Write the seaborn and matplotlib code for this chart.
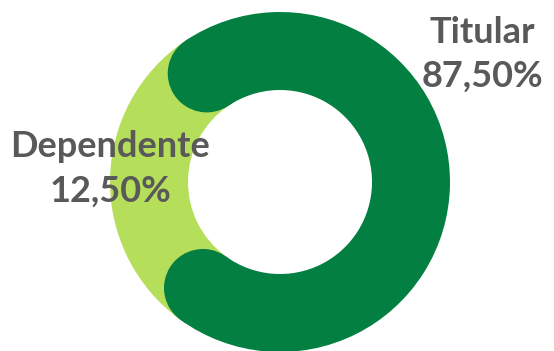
import matplotlib
matplotlib.use("Agg")
import matplotlib.pyplot as plt
import seaborn as sns
import numpy as np
from matplotlib.patches import Circle

# ---- data ----
categories = ["Titular", "Dependente"]
values = [87.5, 12.5]
colors = ["#047F42", "#B5DE5A"]

# ---- style ----
sns.set_theme(style="white")
plt.rcParams['font.family'] = ['Lato', 'DejaVu Sans']
TEXT_COLOR = "#595959"

W, H = 554, 351
cx, cy, R = 280, 182, 170          # centre / outer radius in pixels
ring = 78 / R                      # ring width relative to outer radius
trim = 32.5                        # degrees hidden under the round caps

fig = plt.figure(figsize=(W / 100, H / 100), dpi=100)
ax = fig.add_axes([0, 0, 1, 1])

start = 180 - 360 * (values[0] + values[1] / 2) / sum(values) - 1
wedges, _ = ax.pie(values, colors=colors, startangle=start, counterclock=True,
                   radius=1, wedgeprops=dict(width=ring, linewidth=0))

dark, light = wedges
# shorten dark arc, extend light arc underneath
dark.set_theta1(dark.theta1 + trim)
dark.set_theta2(dark.theta2 - trim)
light.set_theta1(light.theta1 - trim)
light.set_theta2(light.theta2 + trim)
light.set_zorder(1)
dark.set_zorder(2)

# rounded caps
rmid = 1 - ring / 2
for ang in (dark.theta1, dark.theta2):
    a = np.deg2rad(ang)
    ax.add_patch(Circle((rmid * np.cos(a), rmid * np.sin(a)), ring / 2,
                        color=colors[0], linewidth=0, zorder=3))

ax.set_aspect("equal")
ax.set_xlim(-cx / R, (W - cx) / R)
ax.set_ylim(-(H - cy) / R, cy / R)
ax.axis("off")

def pct(v):
    return f"{v:.2f}".replace(".", ",") + "%"

label_pos = {"Titular": (482, 43, 87), "Dependente": (110, 157, 202)}
for cat, v in zip(categories, values):
    x, b1, b2 = label_pos[cat]
    fig.text(x / W, 1 - b1 / H, cat, ha="center", va="baseline",
             fontsize=26, fontweight="bold", color=TEXT_COLOR, zorder=5)
    fig.text(x / W, 1 - b2 / H, pct(v), ha="center", va="baseline",
             fontsize=26, fontweight="bold", color=TEXT_COLOR, zorder=5)

fig.savefig("out.png", dpi=100)
